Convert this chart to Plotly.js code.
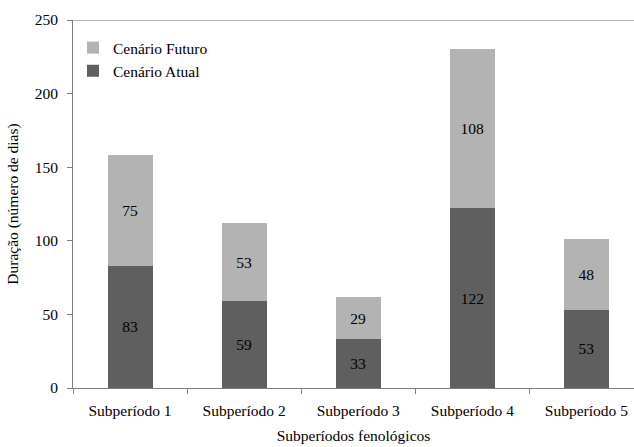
<!DOCTYPE html>
<html>
<head>
<meta charset="utf-8">
<script src="https://cdn.plot.ly/plotly-3.0.1.min.js"></script>
<style>html,body{margin:0;padding:0;background:#fff;}#chart{width:634px;height:447px;}</style>
</head>
<body>
<div id="chart"></div>
<script>
const categories = ["Subperíodo 1", "Subperíodo 2", "Subperíodo 3", "Subperíodo 4", "Subperíodo 5"];
const atual = [83, 59, 33, 122, 53];
const futuro = [75, 53, 29, 108, 48];
const yTicks = [0, 50, 100, 150, 200, 250];

const font = "Liberation Serif";
const fs = 15.5;

const traces = [
  {
    type: "bar", name: "Cenário Atual", x: categories, y: atual,
    text: atual.map(String), textposition: "inside", insidetextanchor: "middle",
    textfont: {family: font, size: fs, color: "#000"},
    marker: {color: "#5f5f5f"}, width: 0.395, hoverinfo: "skip"
  },
  {
    type: "bar", name: "Cenário Futuro", x: categories, y: futuro,
    text: futuro.map(String), textposition: "inside", insidetextanchor: "middle",
    textfont: {family: font, size: fs, color: "#000"},
    marker: {color: "#b3b3b3"}, width: 0.395, hoverinfo: "skip"
  }
];

const layout = {
  width: 634, height: 447,
  margin: {l: 73, r: 0, t: 20, b: 59},
  paper_bgcolor: "#fff", plot_bgcolor: "#fff",
  barmode: "stack",
  font: {family: font, size: fs, color: "#000"},
  showlegend: true,
  legend: {
    x: 0, y: 0.97, xanchor: "left", yanchor: "top",
    traceorder: "reversed", bgcolor: "rgba(0,0,0,0)",
    font: {family: font, size: fs, color: "#000"},
    itemwidth: 30, tracegroupgap: 0
  },
  xaxis: {
    type: "category", range: [-0.5, 4.417],
    showline: true, linecolor: "#7f7f7f", linewidth: 1,
    ticks: "outside", tickson: "boundaries", ticklen: 5, tickcolor: "#7f7f7f",
    ticklabelstandoff: 8,
    showgrid: false, zeroline: false,
    tickfont: {family: font, size: fs, color: "#000"},
    title: {text: "Subperíodos fenológicos", font: {family: font, size: fs, color: "#000"}, standoff: 12},
    automargin: false
  },
  yaxis: {
    range: [0, 250], tickvals: yTicks, ticktext: yTicks.map(String),
    showline: true, linecolor: "#7f7f7f", linewidth: 1,
    ticks: "outside", ticklen: 5, tickcolor: "#7f7f7f",
    ticklabelstandoff: 6,
    showgrid: false, zeroline: false,
    tickfont: {family: font, size: fs, color: "#000"},
    title: {text: "Duração (número de dias)", font: {family: font, size: fs, color: "#000"}, standoff: 12},
    automargin: false
  },
  shapes: [
    {type: "line", xref: "paper", yref: "y", x0: 0, x1: 1, y0: 250, y1: 250,
     line: {color: "#a0a0a0", width: 1.5}}
  ]
};

Plotly.newPlot("chart", traces, layout, {staticPlot: true, displayModeBar: false});
</script>
</body>
</html>
